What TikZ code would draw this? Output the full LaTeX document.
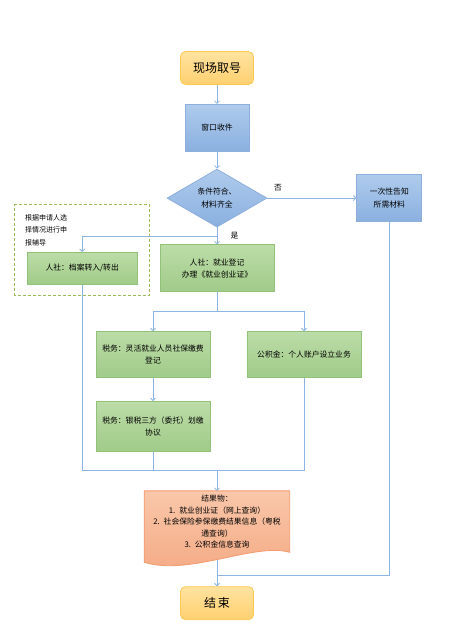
\documentclass[tikz,border=0pt]{standalone}
\usepackage{fontspec}
\setmainfont{Noto Sans CJK SC}
\usepackage{tikz}
\usetikzlibrary{arrows.meta,positioning,shapes.geometric,calc,backgrounds}
\definecolor{lineblue}{HTML}{8DB4E2}
\definecolor{termedge}{HTML}{FAC850}
\definecolor{termtop}{HTML}{FFE3A0}
\definecolor{termbot}{HTML}{FFD070}
\definecolor{bluedge}{HTML}{8EAEDC}
\definecolor{blutop}{HTML}{AFCBEC}
\definecolor{blubot}{HTML}{8AB0E0}
\definecolor{grnedge}{HTML}{92C27A}
\definecolor{grntop}{HTML}{BCDCA8}
\definecolor{grnbot}{HTML}{A0CB88}
\definecolor{docedge}{HTML}{F39A6E}
\definecolor{doctop}{HTML}{F9C7AA}
\definecolor{docbot}{HTML}{F4A983}
\definecolor{dashgrn}{HTML}{9BBB59}

\begin{document}
\begin{tikzpicture}[x=1pt,y=1pt,font=\fontsize{7.8}{12.5}\selectfont,
   term/.style={draw=termedge,line width=0.8pt,rounded corners=5pt,top color=termtop,
                bottom color=termbot,minimum width=73pt,minimum height=33pt,
                font=\fontsize{12}{13}\selectfont},
   blu/.style={draw=bluedge,line width=0.8pt,top color=blutop,bottom color=blubot,
               minimum height=47pt,align=center},
   grn/.style={draw=grnedge,line width=0.8pt,top color=grntop,bottom color=grnbot,
               minimum width=114pt,minimum height=47pt,align=center},
   dec/.style={diamond,aspect=1.7,inner sep=0pt,draw=bluedge,line width=0.8pt,
               top color=blutop,bottom color=blubot,minimum width=100pt,
               minimum height=58pt,align=center},
   ln/.style={draw=lineblue,line width=0.8pt},
   arr/.style={ln,-{Straight Barb[length=2.5pt,width=5pt]}}]
  \useasboundingbox (0,0) rectangle (455,644);

  \node[term] (start) at (217,576) {现场取号};
  \node[blu,minimum width=64pt,below=19pt of start] (recv) {窗口收件};
  \node[dec,below=17pt of recv] (check) {条件符合、\\材料齐全};
  \node[blu,minimum width=65pt,right=89pt of check] (notify) {一次性告知\\所需材料};
  \node[grn,below=17pt of check] (reg) {人社：就业登记\\办理《就业创业证》};
  \node[grn,minimum width=110pt,minimum height=32pt,left=22pt of reg] (file)
       {人社：档案转入/转出};
  \node[font=\fontsize{7}{12.5}\selectfont,align=left,inner sep=0pt,
        above=6pt of file.north west,anchor=south west,xshift=-2pt] (note)
       {根据申请人选\\择情况进行申\\报辅导};
  \draw[dashgrn,line width=1pt,dash pattern=on 3pt off 2pt]
       ($(file.south west)+(-12pt,-11pt)$) rectangle ($(file.north east)+(12pt,47pt)$);
  \node[grn,minimum height=46pt,below=39pt of reg,xshift=-64pt] (tax1)
       {税务：灵活就业人员社保缴费\\登记};
  \node[grn,minimum height=46pt,below=39pt of reg,xshift=87pt] (fund)
       {公积金：个人账户设立业务};
  \node[grn,minimum height=50pt,below=23pt of tax1] (tax2)
       {税务：银税三方（委托）划缴\\协议};
  \node[minimum width=145pt,minimum height=61pt,inner ysep=1pt,align=center,
        font=\fontsize{7.8}{11.5}\selectfont,below=39pt of tax2,xshift=64pt] (res)
       {结果物：\\1.\enspace 就业创业证（网上查询）\\
        2.\enspace 社会保险参保缴费结果信息（粤税\\通查询）\\3.\enspace 公积金信息查询};
  \begin{scope}[on background layer]
    \draw[docedge,line width=0.8pt,top color=doctop,bottom color=docbot]
      (res.north west) -- (res.north east) -- (res.south east)
      .. controls +(-35pt,10pt) and +(45pt,-14pt) .. ([yshift=-10pt]res.south west)
      -- cycle;
  \end{scope}
  \node[term,below=34pt of res] (end) {结\,束};

  % connectors
  \coordinate (yes) at ($(check.south)!0.5!(reg.north)$);
  \coordinate (fork) at ($(reg.south)+(0,-19pt)$);
  \coordinate (join) at ($(res.north)+(0,20pt)$);
  \coordinate (back) at ($(end.north)+(0,11pt)$);
  \coordinate (wave) at ($(res.south)+(0,-8pt)$);
  \draw[arr] (start) -- (recv);
  \draw[arr] (recv) -- (check);
  \draw[arr] (check) -- node[pos=0.12,above=3pt] (nolbl) {否} (notify);
  \draw[arr] (check) -- (reg);
  \node[right=10pt of yes] (yeslbl) {是};
  \draw[arr] (yes) -| (file);
  \draw[ln] (reg) -- (fork);
  \draw[arr] (fork) -| (tax1);
  \draw[arr] (fork) -| (fund);
  \draw[arr] (tax1) -- (tax2);
  \draw[ln] (file) |- (join);
  \draw[ln] (tax2) |- (join);
  \draw[ln] (fund) |- (join);
  \draw[arr] (join) -- (res);
  \draw[ln] (notify) |- (back);
  \draw[arr] (wave) -- (end);
\end{tikzpicture}
\end{document}
